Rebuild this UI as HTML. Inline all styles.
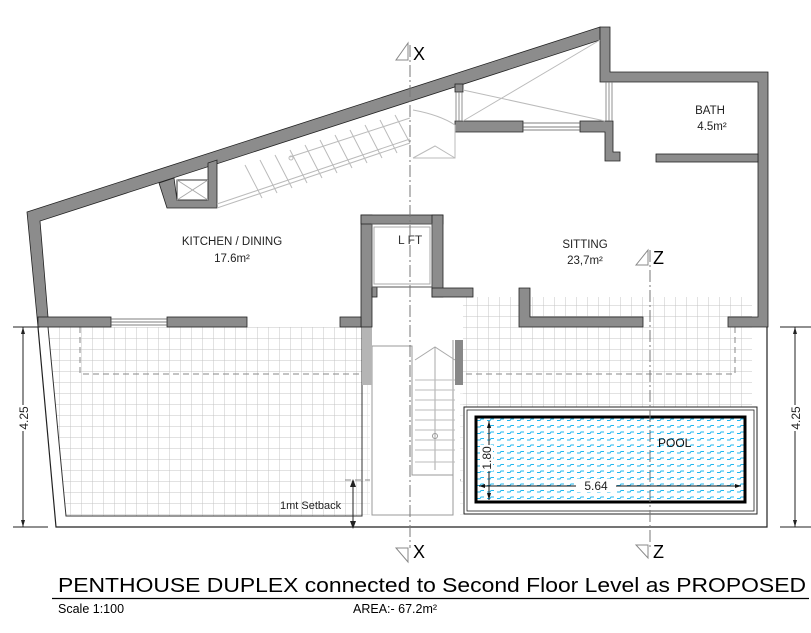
<!DOCTYPE html>
<html><head><meta charset="utf-8"><style>
html,body{margin:0;padding:0;background:#fff;}
svg{display:block;font-family:"Liberation Sans",sans-serif;}
</style></head><body>
<svg width="811" height="633" viewBox="0 0 811 633" xmlns="http://www.w3.org/2000/svg">
<defs>
<pattern id="tile" x="4" y="327" width="11" height="11" patternUnits="userSpaceOnUse">
<path d="M0 0H11M0 0V11" stroke="#c4c4c4" stroke-width="1" fill="none"/>
</pattern>
<pattern id="water" x="476" y="417" width="10" height="6.5" patternUnits="userSpaceOnUse">
<path d="M1 3.5h3l1-1.5h3" stroke="#21b8f0" stroke-width="1" fill="none"/>
</pattern>
</defs>
<rect width="811" height="633" fill="#fff"/>

<!-- terraces -->
<polygon points="48,327 362,327 362,516 66,516" fill="url(#tile)"/>
<rect x="463" y="297" width="289" height="110" fill="url(#tile)"/>
<rect x="362" y="345" width="101" height="170" fill="url(#tile)" opacity="0.6"/>
<path d="M38 327 L56 527 L767 527 L767 327" stroke="#222" fill="none" stroke-width="1.2"/>
<path d="M48 327 L66 516 L362 516 L362 327" stroke="#333" fill="none" stroke-width="1"/>
<path d="M80 327 V374 H362 M735 327 V374 H463" stroke="#888" stroke-dasharray="6,4" fill="none"/>
<path d="M345 480 H463" stroke="#888" stroke-dasharray="6,4" fill="none"/>
<!-- setback -->
<text x="280" y="509" font-size="11" fill="#222">1mt Setback</text>
<path d="M353 480 V528" stroke="#222"/>
<path d="M350 487 L353 479 L356 487Z M350 521 L353 529 L356 521Z" fill="#222"/>

<!-- stairs lower -->
<rect x="370" y="345" width="90" height="170" fill="#fff"/>
<path d="M372 346 H412 V475 H453 M372 346 V515 H453 V340" stroke="#999" fill="none"/>
<path d="M415 360 L435 347 L455 360 M435 347 V470" stroke="#aaa" fill="none"/>
<path d="M415 380 H455 M415 390 H455 M415 400 H455 M415 410 H455 M415 420 H455 M415 430 H455 M415 440 H455 M415 450 H455 M415 462 H455" stroke="#bbb"/>
<circle cx="435" cy="436" r="2.5" stroke="#999" fill="none"/>
<rect x="455" y="340" width="8" height="45" fill="#888"/>

<!-- pool -->
<rect x="464" y="407" width="293" height="107" fill="#fff" stroke="#222"/>
<rect x="467" y="410" width="287" height="101" fill="none" stroke="#222" stroke-width="0.8"/>
<rect x="476" y="417" width="269" height="85" fill="url(#water)" stroke="#000" stroke-width="3"/>
<path d="M479 486 H741" stroke="#111"/>
<path d="M479 486 l6 -2 v4z M741 486 l-6 -2 v4z" fill="#111"/>
<path d="M489 421 V500" stroke="#111"/>
<path d="M487 428 l2 -7 l2 7z M487 493 l2 7 l2 -7z" fill="#111"/>
<rect x="576" y="479" width="40" height="13" fill="#fff"/>
<text x="596" y="490" font-size="12" text-anchor="middle" fill="#222">5.64</text>
<rect x="480" y="445" width="13" height="26" fill="#fff"/>
<text transform="translate(491,458) rotate(-90)" font-size="12" text-anchor="middle" fill="#222">1.80</text>
<text x="658" y="447" font-size="12" fill="#111">POOL</text>

<!-- walls -->
<rect x="362" y="327" width="10" height="58" fill="#b5b5b5"/>
<g fill="#8c8c8c" stroke="#222" stroke-width="0.8">
<polygon points="27,212 600,27 600,40 40,221 48,317 38,327"/>
<polygon points="600,27 610,27 610,72 768,72 768,327 728,327 728,317 758,317 758,82 600,82"/>
<rect x="38" y="317" width="73" height="10"/>
<rect x="167" y="317" width="80" height="10"/>
<polygon points="519,288 530,288 530,317 643,317 643,327 519,327"/>
<rect x="656" y="154" width="102" height="8"/>
<polygon points="455,121 523,121 523,132 455,132"/>
<polygon points="580,121 613,121 613,152 620,152 620,161 605,161 605,132 580,132"/>
<rect x="455" y="84" width="8" height="8"/>
<polygon points="159,183 174,178 177,200 208,200 208,163 217,160 217,208 167,208"/>
<rect x="361" y="215" width="11" height="112"/>
<rect x="361" y="215" width="82" height="9"/>
<rect x="432" y="215" width="11" height="82"/>
<rect x="432" y="288" width="41" height="9"/>
<rect x="372" y="287" width="5" height="10"/>
<rect x="340" y="317" width="21" height="10"/>
</g>
<rect x="177" y="180" width="31" height="20" fill="#fff" stroke="#333"/>
<path d="M177 180 L208 200 M208 180 L177 200" stroke="#aaa"/>
<!-- windows -->
<path d="M111 319 H167 M111 322 H167 M111 325 H167" stroke="#555" stroke-width="0.8"/>
<path d="M523 123 H580 M523 127 H580 M523 130 H580" stroke="#555" stroke-width="0.8"/>
<path d="M456 92 V121 M459 92 V121 M462 92 V121 M606 82 V121 M609 82 V121 M612 82 V121" stroke="#777" stroke-width="0.8"/>
<path d="M463 90 L605 121 M600 40 L463 121" stroke="#bbb"/>
<!-- lift -->
<rect x="372" y="224" width="60" height="63" fill="#fff" stroke="#555"/>
<rect x="374" y="227" width="56" height="57" fill="none" stroke="#aaa"/>
<text x="398" y="244" font-size="12" fill="#333">L FT</text>

<!-- upper stairs -->
<g stroke="#bbb" fill="none">
<path d="M217 208 L410 143 M217 204 L410 139"/>
<path d="M245 165 L262 198 M260 160 L277 193 M275 155 L292 188 M290 150 L307 183 M305 145 L322 178 M320 140 L337 173 M335 135 L352 168 M350 130 L367 163 M365 125 L382 158 M380 120 L397 153 M395 115 L410 143"/>
<path d="M290 157 L410 118"/>
<circle cx="291" cy="158" r="2"/>
<path d="M413 110 Q440 115 455 125 V158 H413 M413 158 L435 146 L455 158"/>
</g>

<!-- section lines -->
<g stroke="#777" stroke-dasharray="12,3,2,3" fill="none">
<path d="M410 45 V548"/>
<path d="M650 250 V548"/>
</g>
<g stroke="#888" fill="#fff">
<path d="M408 43 L396 60 H408Z M408 548 L396 548 L408 562Z M648 250 L636 265 H648Z M648 545 L636 545 L648 558Z"/>
</g>
<g font-size="18" fill="#000">
<text x="413" y="60">X</text><text x="413" y="558">X</text>
<text x="653" y="264">Z</text><text x="653" y="558">Z</text>
</g>

<!-- labels -->
<g font-size="11.5" fill="#222" text-anchor="middle">
<text x="232" y="245">KITCHEN / DINING</text><text x="232" y="262">17.6m²</text>
<text x="585" y="248">SITTING</text><text x="585" y="264">23,7m²</text>
<text x="710" y="114">BATH</text><text x="712" y="130">4.5m²</text>
</g>

<!-- dimensions -->
<g stroke="#222">
<path d="M23 327 V527 M13 327 H40 M13 527 H48"/>
<path d="M795 327 V527 M780 327 H811 M780 527 H811"/>
</g>
<path d="M21 334 l2 -7 l2 7z M21 520 l2 7 l2 -7z M793 334 l2 -7 l2 7z M793 520 l2 7 l2 -7z" fill="#222"/>
<rect x="16" y="405" width="14" height="26" fill="#fff"/><rect x="788" y="405" width="14" height="26" fill="#fff"/>
<text transform="translate(28,418) rotate(-90)" font-size="12" text-anchor="middle" fill="#222">4.25</text>
<text transform="translate(800,418) rotate(-90)" font-size="12" text-anchor="middle" fill="#222">4.25</text>

<!-- title -->
<text x="58" y="592" font-size="20.5" fill="#000" textLength="748" lengthAdjust="spacingAndGlyphs">PENTHOUSE DUPLEX connected to Second Floor Level as PROPOSED</text>
<path d="M52 598.5 H809" stroke="#000" stroke-width="1.3"/>
<text x="58" y="613" font-size="12.5" fill="#000">Scale 1:100</text>
<text x="353" y="613" font-size="12.5" fill="#000">AREA:- 67.2m²</text>
</svg>
</body></html>
